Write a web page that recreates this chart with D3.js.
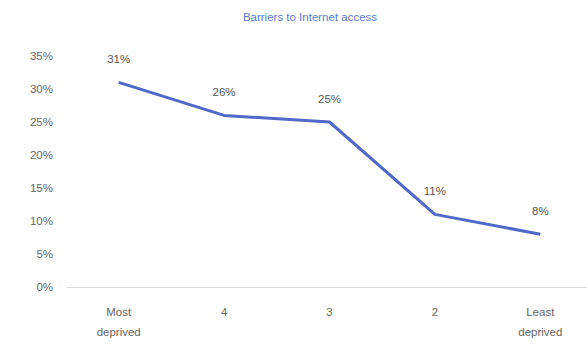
<!DOCTYPE html>
<html>
<head>
<meta charset="utf-8">
<script src="https://cdn.jsdelivr.net/npm/d3@7"></script>
<style>
  html, body { margin: 0; padding: 0; background: #fff; }
  svg { display: block; font-family: "Liberation Sans", "DejaVu Sans", sans-serif; }
</style>
</head>
<body>
<svg id="chart" width="587" height="347"></svg>
<script>
// Share of households facing barriers to Internet access, by deprivation quintile
const categories = ["Most deprived", "4", "3", "2", "Least deprived"];
const values = [31, 26, 25, 11, 8];
const yTicks = [0, 5, 10, 15, 20, 25, 30, 35];

const svg = d3.select("#chart");
const W = 587, H = 347;
const margin = { top: 56, right: -6, bottom: 60, left: 66 };

const x = d3.scalePoint()
  .domain(categories)
  .range([margin.left, W - margin.right])
  .padding(0.5);

const y = d3.scaleLinear()
  .domain([0, 35])
  .range([H - margin.bottom, margin.top]);

// Title
svg.append("text")
  .attr("x", 310)
  .attr("y", 21)
  .attr("text-anchor", "middle")
  .attr("fill", "#5a78d0")
  .attr("font-size", 11.5)
  .text("Barriers to Internet access");

// Y axis labels (no axis line)
const yAxis = d3.axisLeft(y)
  .tickValues(yTicks)
  .tickFormat(d => d + "%")
  .tickSize(0)
  .tickPadding(0);
const gy = svg.append("g")
  .attr("transform", `translate(${margin.left - 13},0)`)
  .call(yAxis);
gy.select(".domain").remove();
gy.selectAll("text")
  .attr("fill", "#666")
  .attr("font-size", 11.5)
  .attr("font-family", "Liberation Sans, sans-serif");

// X axis baseline
const gx = svg.append("g")
  .attr("transform", `translate(0,${y(0)})`)
  .call(d3.axisBottom(x).tickSize(0).tickFormat(""));
gx.select(".domain")
  .attr("stroke", "#d9d9d9")
  .attr("stroke-width", 1);

// Category labels, wrapped on spaces
categories.forEach(c => {
  const words = c.split(" ");
  const t = svg.append("text")
    .attr("x", x(c))
    .attr("y", y(0) + 29)
    .attr("text-anchor", "middle")
    .attr("fill", "#666")
    .attr("font-size", 11.5);
  words.forEach((w, i) => {
    t.append("tspan")
      .attr("x", x(c))
      .attr("dy", i === 0 ? 0 : 20)
      .text(w);
  });
});

// Line
const line = d3.line()
  .x((d, i) => x(categories[i]))
  .y(d => y(d));

svg.append("path")
  .datum(values)
  .attr("fill", "none")
  .attr("stroke", "#5068c8")
  .attr("stroke-width", 3)
  .attr("stroke-linejoin", "round")
  .attr("d", line);

// Value labels
svg.selectAll(".val")
  .data(values)
  .enter()
  .append("text")
  .attr("class", "val")
  .attr("x", (d, i) => x(categories[i]))
  .attr("y", d => y(d) - 19)
  .attr("text-anchor", "middle")
  .attr("fill", "#555")
  .attr("font-size", 11.5)
  .text(d => d + "%");
</script>
</body>
</html>
